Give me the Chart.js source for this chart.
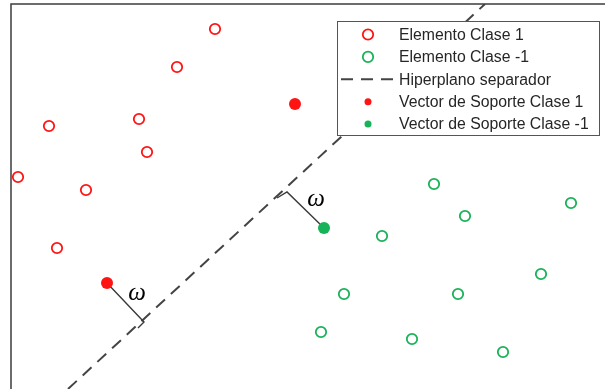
<!DOCTYPE html>
<html>
<head>
<meta charset="utf-8">
<script src="https://cdn.jsdelivr.net/npm/chart.js@4.4.0/dist/chart.umd.min.js"></script>
<style>
  html, body { margin: 0; padding: 0; background: #fff; }
</style>
</head>
<body>
<canvas id="myChart" width="605" height="389"></canvas>
<script>
// puntos de la clase 1 (rojo)
var clase1X = [2.04, 1.66, 0.38, 1.28, 1.36, 0.07, 0.75, 0.46];
var clase1Y = [3.60, 3.22, 2.63, 2.70, 2.37, 2.12, 1.99, 1.41];
// puntos de la clase -1 (verde)
var claseM1X = [4.23, 4.54, 5.60, 3.71, 3.33, 4.47, 5.30, 3.10, 4.01, 4.92];
var claseM1Y = [2.05, 1.73, 1.86, 1.53, 0.95, 0.95, 1.15, 0.57, 0.50, 0.37];
// vectores de soporte
var soporte1X = [2.84, 0.96];
var soporte1Y = [2.85, 1.06];
var soporteM1X = [3.13];
var soporteM1Y = [1.61];
// hiperplano
var hiperX = [0.57, 4.74];
var hiperY = [0.00, 3.85];
// margenes (vector -> hiperplano, con la pequena escuadra)
var margen1X = [0.96, 1.33, 1.27];
var margen1Y = [1.06, 0.67, 0.61];
var margenM1X = [2.66, 2.76, 3.13];
var margenM1Y = [1.91, 1.97, 1.61];
// etiquetas omega
var omegaX = [1.26, 3.05];
var omegaY = [0.96, 1.90];
var etiquetas = ['Elemento Clase 1', 'Elemento Clase -1', 'Hiperplano separador',
                 'Vector de Soporte Clase 1', 'Vector de Soporte Clase -1'];

function pts(xs, ys) {
    var out = [];
    for (var i = 0; i < xs.length; i++) out.push({x: xs[i], y: ys[i]});
    return out;
}

var rojo = 'rgb(255, 20, 20)';
var verde = 'rgb(24, 178, 88)';

var extras = {
    id: 'extras',
    afterDraw: function(chart) {
        var ctx = chart.ctx;
        var a = chart.chartArea;
        var sx = chart.scales.x, sy = chart.scales.y;
        ctx.save();

        // borde superior e izquierdo
        ctx.strokeStyle = '#3c3c3c';
        ctx.lineWidth = 1.5;
        ctx.beginPath();
        ctx.moveTo(a.left, a.bottom);
        ctx.lineTo(a.left, a.top);
        ctx.lineTo(a.right, a.top);
        ctx.stroke();

        // omegas
        ctx.fillStyle = '#000';
        ctx.font = 'italic 25px "Liberation Serif"';
        ctx.textAlign = 'center';
        ctx.textBaseline = 'middle';
        for (var i = 0; i < omegaX.length; i++) {
            ctx.fillText('\u03c9', sx.getPixelForValue(omegaX[i]), sy.getPixelForValue(omegaY[i]));
        }

        // leyenda
        var bx = 337.5, by = 21.5, bw = 262, bh = 114;
        ctx.fillStyle = '#fff';
        ctx.fillRect(bx, by, bw, bh);
        ctx.strokeStyle = '#555';
        ctx.lineWidth = 1;
        ctx.strokeRect(bx, by, bw, bh);

        var items = chart.data.datasets.filter(function(d) { return d.enLeyenda; });
        ctx.font = '15.8px "Liberation Sans"';
        ctx.textAlign = 'left';
        items.forEach(function(ds, k) {
            var y = 34.5 + k * 22.4;
            if (ds.showLine) {
                ctx.strokeStyle = ds.borderColor;
                ctx.lineWidth = ds.borderWidth;
                ctx.setLineDash(ds.borderDash);
                ctx.beginPath();
                ctx.moveTo(341, y);
                ctx.lineTo(394, y);
                ctx.stroke();
                ctx.setLineDash([]);
            } else {
                ctx.beginPath();
                ctx.arc(368, y, ds.radioLeyenda, 0, Math.PI * 2);
                if (ds.relleno) {
                    ctx.fillStyle = ds.backgroundColor;
                    ctx.fill();
                } else {
                    ctx.strokeStyle = ds.borderColor;
                    ctx.lineWidth = ds.borderWidth;
                    ctx.stroke();
                }
            }
            ctx.fillStyle = '#262626';
            ctx.fillText(ds.label, 399, y + 1);
        });
        ctx.restore();
    }
};

var ctx = document.getElementById('myChart').getContext('2d');
var chart = new Chart(ctx, {
    type: 'scatter',
    data: {
        datasets: [{
            label: etiquetas[0],
            data: pts(clase1X, clase1Y),
            pointRadius: 5.2,
            pointBorderWidth: 1.8,
            borderColor: rojo,
            backgroundColor: 'rgba(0,0,0,0)',
            borderWidth: 1.8,
            radioLeyenda: 5.2,
            enLeyenda: true,
            order: 0
        }, {
            label: etiquetas[1],
            data: pts(claseM1X, claseM1Y),
            pointRadius: 5.2,
            pointBorderWidth: 1.8,
            borderColor: verde,
            backgroundColor: 'rgba(0,0,0,0)',
            borderWidth: 1.8,
            radioLeyenda: 5.2,
            enLeyenda: true,
            order: 0
        }, {
            label: etiquetas[2],
            data: pts(hiperX, hiperY),
            showLine: true,
            pointRadius: 0,
            borderColor: '#444',
            borderWidth: 2,
            borderDash: [12, 8],
            enLeyenda: true,
            order: 2
        }, {
            label: etiquetas[3],
            data: pts(soporte1X, soporte1Y),
            pointRadius: 6,
            pointBorderWidth: 0,
            backgroundColor: rojo,
            borderColor: rojo,
            radioLeyenda: 3.5,
            relleno: true,
            enLeyenda: true,
            order: 0
        }, {
            label: etiquetas[4],
            data: pts(soporteM1X, soporteM1Y),
            pointRadius: 6,
            pointBorderWidth: 0,
            backgroundColor: verde,
            borderColor: verde,
            radioLeyenda: 3.5,
            relleno: true,
            enLeyenda: true,
            order: 0
        }, {
            label: 'margen 1',
            data: pts(margen1X, margen1Y),
            showLine: true,
            pointRadius: 0,
            borderColor: '#3a3a3a',
            borderWidth: 1.4,
            order: 1
        }, {
            label: 'margen -1',
            data: pts(margenM1X, margenM1Y),
            showLine: true,
            pointRadius: 0,
            borderColor: '#3a3a3a',
            borderWidth: 1.4,
            order: 1
        }]
    },
    options: {
        responsive: false,
        animation: false,
        devicePixelRatio: 1,
        layout: { autoPadding: false, padding: { left: 11, top: 4, right: 0, bottom: 0 } },
        scales: {
            x: { type: 'linear', min: 0, max: 5.94, display: false },
            y: { type: 'linear', min: 0, max: 3.85, display: false }
        },
        plugins: {
            legend: { display: false },
            tooltip: { enabled: false }
        }
    },
    plugins: [extras]
});
</script>
</body>
</html>
